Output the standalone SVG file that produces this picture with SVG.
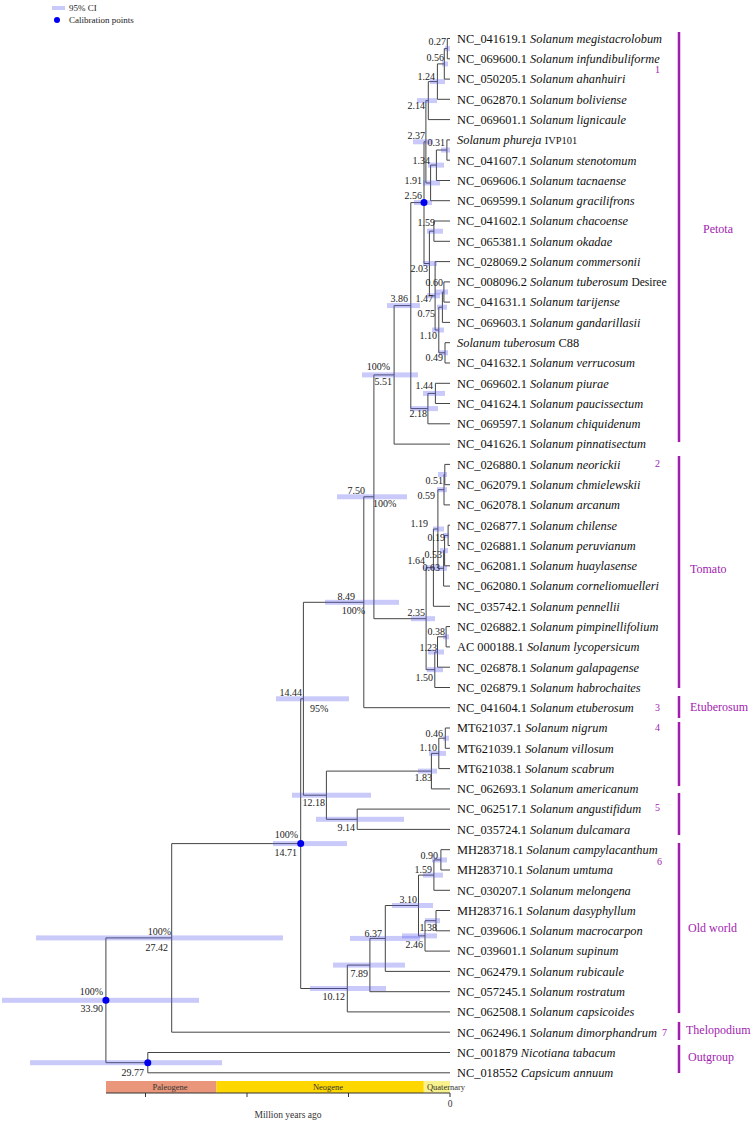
<svg xmlns="http://www.w3.org/2000/svg" width="751" height="1123" viewBox="0 0 751 1123">
<style>
.br{fill:none;stroke:#444;stroke-width:1}
.ci{fill:#5a5af0;fill-opacity:0.33}
.cal{fill:#0000ee}
.leaf{font-family:"Liberation Serif",serif;font-size:12.4px;fill:#111}
.sp{font-style:italic}
.sm{font-size:10.5px}
.age{font-family:"Liberation Serif",serif;font-size:10px;fill:#222;text-anchor:end}
.sup{font-family:"Liberation Serif",serif;font-size:10px;fill:#222}
.grp{font-family:"Liberation Serif",serif;font-size:12px;fill:#a21caf}
.num{font-family:"Liberation Serif",serif;font-size:10px;fill:#a21caf}
.gbar{stroke:#a21caf;stroke-width:2.5}
.leg{font-family:"Liberation Serif",serif;font-size:9px;fill:#222}
.geo{font-family:"Liberation Serif",serif;font-size:8.5px;fill:#333;text-anchor:middle}
.ax{stroke:#333;stroke-width:1;fill:none}
</style>
<rect width="751" height="1123" fill="#fff"/>
<g id="legend">
<rect x="52" y="6" width="13" height="4" class="ci"/>
<text x="69" y="11" class="leg">95% CI</text>
<circle cx="57" cy="20" r="3" class="cal"/>
<text x="69" y="23" class="leg">Calibration points</text>
</g>
<g id="timescale">
<rect x="106" y="1081" width="110.5" height="12" fill="#e9967a"/>
<rect x="216.5" y="1081" width="207.3" height="12" fill="#ffd700"/>
<rect x="423.8" y="1081" width="26.2" height="12" fill="#f9f18b"/>
<text x="170" y="1090" class="geo">Paleogene</text>
<text x="328" y="1090" class="geo">Neogene</text>
<text x="446" y="1090" class="geo">Quaternary</text>
<path class="ax" d="M106 1093H450M145.5 1093V1097M247 1093V1097M348.5 1093V1097M450 1093V1097"/>
<text x="450" y="1107" class="geo" style="font-size:9.5px">0</text>
<text x="288" y="1117.5" class="geo" style="font-size:9.5px">Million years ago</text>
</g>
<g id="connectors" class="br">
<path d="M450 38.5H447.3V58.8H450"/>
<path d="M447.3 48.6H444.3V79.1H450"/>
<path d="M444.3 63.9H437.4V99.3H450"/>
<path d="M437.4 81.6H428.3V119.6H450"/>
<path d="M450 139.9H446.9V160.2H450"/>
<path d="M446.9 150H436.4V180.5H450"/>
<path d="M436.4 165.1H430.6V200.7H450"/>
<path d="M428.3 100.6H425.9V183H430.6"/>
<path d="M450 221H433.9V241.3H450"/>
<path d="M450 281.9H443.9V302.1H450"/>
<path d="M443.9 292H442.4V322.4H450"/>
<path d="M450 342.7H445V363H450"/>
<path d="M442.4 307.2H438.8V352.8H445"/>
<path d="M450 261.6H435.1V330H438.8"/>
<path d="M433.9 231.2H429.4V295.8H435.1"/>
<path d="M425.9 141.8H424V263.5H429.4"/>
<path d="M450 383.3H435.4V403.5H450"/>
<path d="M435.4 393.4H427.9V423.8H450"/>
<path d="M424 202.6H410.8V408.6H427.9"/>
<path d="M410.8 305.6H394.1V444.1H450"/>
<path d="M450 464.4H444.8V484.7H450"/>
<path d="M444.8 474.5H444V504.9H450"/>
<path d="M450 525.2H448.1V545.5H450"/>
<path d="M448.1 535.4H444.6V565.8H450"/>
<path d="M444.6 550.6H443.6V586.1H450"/>
<path d="M444 489.7H437.9V568.3H443.6"/>
<path d="M437.9 529H433.4V606.3H450"/>
<path d="M450 626.6H446.1V646.9H450"/>
<path d="M446.1 636.8H437.5V667.2H450"/>
<path d="M437.5 652H434.8V687.5H450"/>
<path d="M433.4 567.7H426.1V669.7H434.8"/>
<path d="M394.1 374.9H373.9V618.7H426.1"/>
<path d="M373.9 496.8H363.8V707.7H450"/>
<path d="M450 728H445.3V748.3H450"/>
<path d="M445.3 738.2H438.8V768.6H450"/>
<path d="M438.8 753.4H431.4V788.9H450"/>
<path d="M450 809.1H357.2V829.4H450"/>
<path d="M431.4 771.1H326.4V819.3H357.2"/>
<path d="M363.8 602.3H303.4V795.2H326.4"/>
<path d="M450 849.7H440.9V870H450"/>
<path d="M440.9 859.9H433.9V890.3H450"/>
<path d="M450 910.5H436V930.8H450"/>
<path d="M436 920.7H425V951.1H450"/>
<path d="M433.9 875.1H418.5V935.9H425"/>
<path d="M418.5 905.5H385.3V971.4H450"/>
<path d="M385.3 938.4H369.9V991.7H450"/>
<path d="M369.9 965.1H347.3V1011.9H450"/>
<path d="M303.4 698.8H300.7V988.5H347.3"/>
<path d="M300.7 843.6H171.7V1032.2H450"/>
<path d="M450 1052.5H147.8V1072.8H450"/>
<path d="M171.7 937.9H105.9V1062.7H147.8"/>
</g>
<g id="n027"><rect class="ci" x="445" y="46.1" width="5" height="5"/><text class="age" x="446" y="44.5">0.27</text></g>
<g id="n056"><rect class="ci" x="442" y="61.4" width="6" height="5"/><text class="age" x="444" y="60.5">0.56</text></g>
<g id="n124"><rect class="ci" x="430" y="79.1" width="15" height="5"/><text class="age" x="435" y="79.5">1.24</text></g>
<g id="n214"><rect class="ci" x="417" y="98.1" width="20" height="5"/><text class="age" x="425" y="108.5">2.14</text></g>
<g id="n237"><rect class="ci" x="413" y="139.3" width="20" height="5"/><text class="age" x="425" y="138.5">2.37</text></g>
<g id="n031"><rect class="ci" x="441" y="147.5" width="9" height="5"/><text class="age" x="445" y="146">0.31</text></g>
<g id="n134"><rect class="ci" x="428" y="162.6" width="16" height="5"/><text class="age" x="430" y="164">1.34</text></g>
<g id="n191"><rect class="ci" x="423" y="180.5" width="17" height="5"/><text class="age" x="422" y="183.5">1.91</text></g>
<g id="n256"><rect class="ci" x="414" y="200.1" width="18" height="5"/><circle class="cal" cx="424" cy="202.6" r="3.5"/><text class="age" x="422" y="198.5">2.56</text></g>
<g id="n159"><rect class="ci" x="427" y="228.7" width="16" height="5"/><text class="age" x="435" y="225.5">1.59</text></g>
<g id="n203"><rect class="ci" x="423" y="261" width="14" height="5"/><text class="age" x="428" y="271.5">2.03</text></g>
<g id="n060"><rect class="ci" x="435" y="289.5" width="13" height="5"/><text class="age" x="443" y="285.5">0.60</text></g>
<g id="n147"><rect class="ci" x="427" y="293.3" width="13" height="5"/><text class="age" x="433" y="301.5">1.47</text></g>
<g id="n386"><rect class="ci" x="387" y="303.1" width="33" height="5"/><text class="age" x="408" y="301.5">3.86</text></g>
<g id="n075"><rect class="ci" x="437" y="304.7" width="10" height="5"/><text class="age" x="435" y="316.5">0.75</text></g>
<g id="n110"><rect class="ci" x="432" y="327.5" width="12" height="5"/><text class="age" x="437" y="338.5">1.10</text></g>
<g id="n049"><rect class="ci" x="439" y="350.3" width="9" height="5"/><text class="age" x="443" y="360.5">0.49</text></g>
<g id="n551"><rect class="ci" x="362" y="372.4" width="56" height="5"/><text class="age" x="390" y="369.5">100%</text><text class="age" x="392" y="384.5">5.51</text></g>
<g id="n144"><rect class="ci" x="423" y="390.9" width="22" height="5"/><text class="age" x="433" y="388.5">1.44</text></g>
<g id="n218"><rect class="ci" x="410" y="406.1" width="28" height="5"/><text class="age" x="427" y="416.5">2.18</text></g>
<g id="n051"><rect class="ci" x="438" y="472" width="9" height="5"/><text class="age" x="443" y="483.5">0.51</text></g>
<g id="n059"><rect class="ci" x="437" y="487.2" width="10" height="5"/><text class="age" x="435" y="498.5">0.59</text></g>
<g id="n750"><rect class="ci" x="337" y="494.3" width="70" height="5"/><text class="age" x="365" y="493.5">7.50</text><text class="sup" x="373" y="506.5">100%</text></g>
<g id="n119"><rect class="ci" x="433" y="526.5" width="11" height="5"/><text class="age" x="428" y="526.5">1.19</text></g>
<g id="n019"><rect class="ci" x="443" y="532.9" width="6" height="5"/><text class="age" x="445" y="540.5">0.19</text></g>
<g id="n053"><rect class="ci" x="440" y="548.1" width="8" height="5"/><text class="age" x="442" y="557.5">0.53</text></g>
<g id="n164"><rect class="ci" x="423" y="565.2" width="14" height="5"/><text class="age" x="425" y="563.5">1.64</text></g>
<g id="n063"><rect class="ci" x="437" y="565.8" width="10" height="5"/><text class="age" x="440" y="570.5">0.63</text></g>
<g id="n849"><rect class="ci" x="325" y="599.8" width="74" height="5"/><text class="age" x="355" y="599.5">8.49</text><text class="age" x="365" y="613.5">100%</text></g>
<g id="n235"><rect class="ci" x="411" y="616.2" width="24" height="5"/><text class="age" x="425" y="616">2.35</text></g>
<g id="n038"><rect class="ci" x="443" y="634.3" width="6" height="5"/><text class="age" x="445" y="634.5">0.38</text></g>
<g id="n123"><rect class="ci" x="428" y="649.5" width="16" height="5"/><text class="age" x="437" y="650.5">1.23</text></g>
<g id="n150"><rect class="ci" x="427" y="667.2" width="16" height="5"/><text class="age" x="433" y="680.5">1.50</text></g>
<g id="n1444"><rect class="ci" x="276" y="696.3" width="73" height="5"/><text class="age" x="302" y="695.5">14.44</text><text class="sup" x="310" y="711.5">95%</text></g>
<g id="n046"><rect class="ci" x="443" y="735.7" width="6" height="5"/><text class="age" x="443" y="736.5">0.46</text></g>
<g id="n110b"><rect class="ci" x="429" y="750.9" width="17" height="5"/><text class="age" x="437" y="750.5">1.10</text></g>
<g id="n183"><rect class="ci" x="418" y="768.6" width="19" height="5"/><text class="age" x="432" y="780.5">1.83</text></g>
<g id="n1218"><rect class="ci" x="292" y="792.7" width="79" height="5"/><text class="age" x="325" y="805.5">12.18</text></g>
<g id="n914"><rect class="ci" x="316" y="816.8" width="88" height="5"/><text class="age" x="355" y="830.5">9.14</text></g>
<g id="n1471"><rect class="ci" x="273" y="841.1" width="74" height="5"/><circle class="cal" cx="300.7" cy="843.6" r="3.5"/><text class="age" x="298" y="837.5">100%</text><text class="age" x="297" y="855.5">14.71</text></g>
<g id="n090"><rect class="ci" x="432" y="857.4" width="15" height="5"/><text class="age" x="438" y="858.5">0.90</text></g>
<g id="n159b"><rect class="ci" x="423" y="872.6" width="20" height="5"/><text class="age" x="432" y="872.5">1.59</text></g>
<g id="n310"><rect class="ci" x="392" y="903" width="41" height="5"/><text class="age" x="417" y="902.5">3.10</text></g>
<g id="n138"><rect class="ci" x="425" y="918.2" width="15" height="5"/><text class="age" x="437" y="930.5">1.38</text></g>
<g id="n637"><rect class="ci" x="350" y="935.9" width="70" height="5"/><text class="age" x="382" y="936.5">6.37</text></g>
<g id="n246"><rect class="ci" x="402" y="933.4" width="35" height="5"/><text class="age" x="423" y="947.5">2.46</text></g>
<g id="n789"><rect class="ci" x="333" y="962.6" width="72" height="5"/><text class="age" x="368" y="976.5">7.89</text></g>
<g id="n1012"><rect class="ci" x="310" y="986" width="76" height="5"/><text class="age" x="345" y="999.5">10.12</text></g>
<g id="n2742"><rect class="ci" x="36" y="935.4" width="247" height="5"/><text class="age" x="171" y="934.5">100%</text><text class="age" x="168" y="950.5">27.42</text></g>
<g id="n3390"><rect class="ci" x="2" y="997.8" width="197" height="5"/><circle class="cal" cx="105.9" cy="1000.3" r="3.5"/><text class="age" x="103" y="994.5">100%</text><text class="age" x="103" y="1011.5">33.90</text></g>
<g id="n2977"><rect class="ci" x="30" y="1060.2" width="192" height="5"/><circle class="cal" cx="147.8" cy="1062.7" r="3.5"/><text class="age" x="144" y="1075.5">29.77</text></g>
<g id="leaf-01"><text class="leaf" x="457" y="42.8">NC_041619.1 <tspan class="sp">Solanum megistacrolobum</tspan></text></g>
<g id="leaf-02"><text class="leaf" x="457" y="63.1">NC_069600.1 <tspan class="sp">Solanum infundibuliforme</tspan></text></g>
<g id="leaf-03"><text class="leaf" x="457" y="83.4">NC_050205.1 <tspan class="sp">Solanum ahanhuiri</tspan></text></g>
<g id="leaf-04"><text class="leaf" x="457" y="103.6">NC_062870.1 <tspan class="sp">Solanum boliviense</tspan></text></g>
<g id="leaf-05"><text class="leaf" x="457" y="123.9">NC_069601.1 <tspan class="sp">Solanum lignicaule</tspan></text></g>
<g id="leaf-06"><text class="leaf" x="457" y="144.2"><tspan class="sp">Solanum phureja</tspan> <tspan class="sm">IVP101</tspan></text></g>
<g id="leaf-07"><text class="leaf" x="457" y="164.5">NC_041607.1 <tspan class="sp">Solanum stenotomum</tspan></text></g>
<g id="leaf-08"><text class="leaf" x="457" y="184.8">NC_069606.1 <tspan class="sp">Solanum tacnaense</tspan></text></g>
<g id="leaf-09"><text class="leaf" x="457" y="205">NC_069599.1 <tspan class="sp">Solanum gracilifrons</tspan></text></g>
<g id="leaf-10"><text class="leaf" x="457" y="225.3">NC_041602.1 <tspan class="sp">Solanum chacoense</tspan></text></g>
<g id="leaf-11"><text class="leaf" x="457" y="245.6">NC_065381.1 <tspan class="sp">Solanum okadae</tspan></text></g>
<g id="leaf-12"><text class="leaf" x="457" y="265.9">NC_028069.2 <tspan class="sp">Solanum commersonii</tspan></text></g>
<g id="leaf-13"><text class="leaf" x="457" y="286.2">NC_008096.2 <tspan class="sp">Solanum tuberosum</tspan> <tspan class="sm" style="font-size:11.5px">Desiree</tspan></text></g>
<g id="leaf-14"><text class="leaf" x="457" y="306.4">NC_041631.1 <tspan class="sp">Solanum tarijense</tspan></text></g>
<g id="leaf-15"><text class="leaf" x="457" y="326.7">NC_069603.1 <tspan class="sp">Solanum gandarillasii</tspan></text></g>
<g id="leaf-16"><text class="leaf" x="457" y="347"><tspan class="sp">Solanum tuberosum</tspan> C88</text></g>
<g id="leaf-17"><text class="leaf" x="457" y="367.3">NC_041632.1 <tspan class="sp">Solanum verrucosum</tspan></text></g>
<g id="leaf-18"><text class="leaf" x="457" y="387.6">NC_069602.1 <tspan class="sp">Solanum piurae</tspan></text></g>
<g id="leaf-19"><text class="leaf" x="457" y="407.8">NC_041624.1 <tspan class="sp">Solanum paucissectum</tspan></text></g>
<g id="leaf-20"><text class="leaf" x="457" y="428.1">NC_069597.1 <tspan class="sp">Solanum chiquidenum</tspan></text></g>
<g id="leaf-21"><text class="leaf" x="457" y="448.4">NC_041626.1 <tspan class="sp">Solanum pinnatisectum</tspan></text></g>
<g id="leaf-22"><text class="leaf" x="457" y="468.7">NC_026880.1 <tspan class="sp">Solanum neorickii</tspan></text></g>
<g id="leaf-23"><text class="leaf" x="457" y="489">NC_062079.1 <tspan class="sp">Solanum chmielewskii</tspan></text></g>
<g id="leaf-24"><text class="leaf" x="457" y="509.2">NC_062078.1 <tspan class="sp">Solanum arcanum</tspan></text></g>
<g id="leaf-25"><text class="leaf" x="457" y="529.5">NC_026877.1 <tspan class="sp">Solanum chilense</tspan></text></g>
<g id="leaf-26"><text class="leaf" x="457" y="549.8">NC_026881.1 <tspan class="sp">Solanum peruvianum</tspan></text></g>
<g id="leaf-27"><text class="leaf" x="457" y="570.1">NC_062081.1 <tspan class="sp">Solanum huaylasense</tspan></text></g>
<g id="leaf-28"><text class="leaf" x="457" y="590.4">NC_062080.1 <tspan class="sp">Solanum corneliomuelleri</tspan></text></g>
<g id="leaf-29"><text class="leaf" x="457" y="610.6">NC_035742.1 <tspan class="sp">Solanum pennellii</tspan></text></g>
<g id="leaf-30"><text class="leaf" x="457" y="630.9">NC_026882.1 <tspan class="sp">Solanum pimpinellifolium</tspan></text></g>
<g id="leaf-31"><text class="leaf" x="457" y="651.2">AC 000188.1 <tspan class="sp">Solanum lycopersicum</tspan></text></g>
<g id="leaf-32"><text class="leaf" x="457" y="671.5">NC_026878.1 <tspan class="sp">Solanum galapagense</tspan></text></g>
<g id="leaf-33"><text class="leaf" x="457" y="691.8">NC_026879.1 <tspan class="sp">Solanum habrochaites</tspan></text></g>
<g id="leaf-34"><text class="leaf" x="457" y="712">NC_041604.1 <tspan class="sp">Solanum etuberosum</tspan></text></g>
<g id="leaf-35"><text class="leaf" x="457" y="732.3">MT621037.1 <tspan class="sp">Solanum nigrum</tspan></text></g>
<g id="leaf-36"><text class="leaf" x="457" y="752.6">MT621039.1 <tspan class="sp">Solanum villosum</tspan></text></g>
<g id="leaf-37"><text class="leaf" x="457" y="772.9">MT621038.1 <tspan class="sp">Solanum scabrum</tspan></text></g>
<g id="leaf-38"><text class="leaf" x="457" y="793.2">NC_062693.1 <tspan class="sp">Solanum americanum</tspan></text></g>
<g id="leaf-39"><text class="leaf" x="457" y="813.4">NC_062517.1 <tspan class="sp">Solanum angustifidum</tspan></text></g>
<g id="leaf-40"><text class="leaf" x="457" y="833.7">NC_035724.1 <tspan class="sp">Solanum dulcamara</tspan></text></g>
<g id="leaf-41"><text class="leaf" x="457" y="854">MH283718.1 <tspan class="sp">Solanum campylacanthum</tspan></text></g>
<g id="leaf-42"><text class="leaf" x="457" y="874.3">MH283710.1 <tspan class="sp">Solanum umtuma</tspan></text></g>
<g id="leaf-43"><text class="leaf" x="457" y="894.6">NC_030207.1 <tspan class="sp">Solanum melongena</tspan></text></g>
<g id="leaf-44"><text class="leaf" x="457" y="914.8">MH283716.1 <tspan class="sp">Solanum dasyphyllum</tspan></text></g>
<g id="leaf-45"><text class="leaf" x="457" y="935.1">NC_039606.1 <tspan class="sp">Solanum macrocarpon</tspan></text></g>
<g id="leaf-46"><text class="leaf" x="457" y="955.4">NC_039601.1 <tspan class="sp">Solanum supinum</tspan></text></g>
<g id="leaf-47"><text class="leaf" x="457" y="975.7">NC_062479.1 <tspan class="sp">Solanum rubicaule</tspan></text></g>
<g id="leaf-48"><text class="leaf" x="457" y="996">NC_057245.1 <tspan class="sp">Solanum rostratum</tspan></text></g>
<g id="leaf-49"><text class="leaf" x="457" y="1016.2">NC_062508.1 <tspan class="sp">Solanum capsicoides</tspan></text></g>
<g id="leaf-50"><text class="leaf" x="457" y="1036.5">NC_062496.1 <tspan class="sp">Solanum dimorphandrum</tspan></text></g>
<g id="leaf-51"><text class="leaf" x="457" y="1056.8">NC_001879 <tspan class="sp">Nicotiana tabacum</tspan></text></g>
<g id="leaf-52"><text class="leaf" x="457" y="1077.1">NC_018552 <tspan class="sp">Capsicum annuum</tspan></text></g>
<g id="group-petota"><line class="gbar" x1="679" y1="32" x2="679" y2="442"/><text class="num" x="655" y="73">1</text><text class="grp" x="703" y="233">Petota</text></g>
<g id="group-tomato"><line class="gbar" x1="679" y1="456" x2="679" y2="688"/><text class="num" x="655" y="467">2</text><text class="grp" x="690" y="573">Tomato</text></g>
<g id="group-etuberosum"><line class="gbar" x1="679" y1="696" x2="679" y2="718"/><text class="num" x="655" y="711">3</text><text class="grp" x="690" y="711">Etuberosum</text></g>
<g id="group-4"><line class="gbar" x1="679" y1="722" x2="679" y2="786"/><text class="num" x="655" y="731">4</text></g>
<g id="group-5"><line class="gbar" x1="679" y1="793" x2="679" y2="835"/><text class="num" x="655" y="811">5</text></g>
<g id="group-oldworld"><line class="gbar" x1="679" y1="843" x2="679" y2="1013"/><text class="num" x="657" y="865">6</text><text class="grp" x="688" y="932">Old world</text></g>
<g id="group-thelopodium"><line class="gbar" x1="679" y1="1022" x2="679" y2="1040"/><text class="num" x="662" y="1036">7</text><text class="grp" x="686" y="1034">Thelopodium</text></g>
<g id="group-outgroup"><line class="gbar" x1="679" y1="1045" x2="679" y2="1073"/><text class="grp" x="688" y="1061">Outgroup</text></g>
</svg>
